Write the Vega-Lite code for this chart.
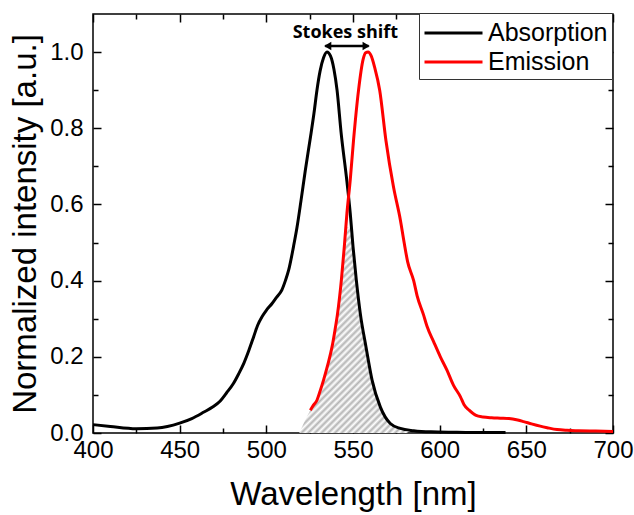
{
  "$schema": "https://vega.github.io/schema/vega-lite/v6.json",
  "width": 520,
  "height": 419,
  "autosize": {"type": "none"},
  "padding": {"left": 93, "top": 14, "right": 21, "bottom": 82},
  "background": "white",
  "config": {
    "view": {"stroke": "#000000", "strokeWidth": 1.5},
    "font": "Liberation Sans",
    "axis": {
      "domain": false,
      "tickColor": "#000000",
      "tickWidth": 1.5,
      "labelColor": "#000000",
      "labelFont": "Liberation Sans",
      "labelFontSize": 24,
      "labelFlush": false,
      "labelOverlap": false,
      "titleFont": "Liberation Sans",
      "titleFontSize": 33,
      "titleFontWeight": "normal",
      "titleColor": "#000000",
      "grid": false
    }
  },
  "datasets": {
    "spectra": [
      {"wavelength": 400, "intensity": 0.022, "series": "Absorption"},
      {"wavelength": 410, "intensity": 0.017, "series": "Absorption"},
      {"wavelength": 425, "intensity": 0.011, "series": "Absorption"},
      {"wavelength": 437, "intensity": 0.013, "series": "Absorption"},
      {"wavelength": 450, "intensity": 0.026, "series": "Absorption"},
      {"wavelength": 457, "intensity": 0.038, "series": "Absorption"},
      {"wavelength": 464, "intensity": 0.055, "series": "Absorption"},
      {"wavelength": 469, "intensity": 0.068, "series": "Absorption"},
      {"wavelength": 473.4, "intensity": 0.084, "series": "Absorption"},
      {"wavelength": 477, "intensity": 0.105, "series": "Absorption"},
      {"wavelength": 481, "intensity": 0.13, "series": "Absorption"},
      {"wavelength": 484, "intensity": 0.155, "series": "Absorption"},
      {"wavelength": 487, "intensity": 0.183, "series": "Absorption"},
      {"wavelength": 490, "intensity": 0.218, "series": "Absorption"},
      {"wavelength": 492.7, "intensity": 0.253, "series": "Absorption"},
      {"wavelength": 495, "intensity": 0.283, "series": "Absorption"},
      {"wavelength": 497.5, "intensity": 0.305, "series": "Absorption"},
      {"wavelength": 500, "intensity": 0.322, "series": "Absorption"},
      {"wavelength": 503.3, "intensity": 0.34, "series": "Absorption"},
      {"wavelength": 506, "intensity": 0.357, "series": "Absorption"},
      {"wavelength": 509, "intensity": 0.376, "series": "Absorption"},
      {"wavelength": 511, "intensity": 0.4, "series": "Absorption"},
      {"wavelength": 512.9, "intensity": 0.428, "series": "Absorption"},
      {"wavelength": 515.7, "intensity": 0.49, "series": "Absorption"},
      {"wavelength": 517.7, "intensity": 0.54, "series": "Absorption"},
      {"wavelength": 520, "intensity": 0.61, "series": "Absorption"},
      {"wavelength": 522.5, "intensity": 0.69, "series": "Absorption"},
      {"wavelength": 525.4, "intensity": 0.775, "series": "Absorption"},
      {"wavelength": 527.5, "intensity": 0.84, "series": "Absorption"},
      {"wavelength": 529.2, "intensity": 0.9, "series": "Absorption"},
      {"wavelength": 531, "intensity": 0.95, "series": "Absorption"},
      {"wavelength": 533, "intensity": 0.985, "series": "Absorption"},
      {"wavelength": 535, "intensity": 1.0, "series": "Absorption"},
      {"wavelength": 537, "intensity": 0.99, "series": "Absorption"},
      {"wavelength": 539, "intensity": 0.955, "series": "Absorption"},
      {"wavelength": 540.8, "intensity": 0.9, "series": "Absorption"},
      {"wavelength": 543.1, "intensity": 0.79, "series": "Absorption"},
      {"wavelength": 546.5, "intensity": 0.66, "series": "Absorption"},
      {"wavelength": 548.4, "intensity": 0.577, "series": "Absorption"},
      {"wavelength": 550, "intensity": 0.49, "series": "Absorption"},
      {"wavelength": 551.9, "intensity": 0.402, "series": "Absorption"},
      {"wavelength": 554.2, "intensity": 0.314, "series": "Absorption"},
      {"wavelength": 557.5, "intensity": 0.226, "series": "Absorption"},
      {"wavelength": 561, "intensity": 0.139, "series": "Absorption"},
      {"wavelength": 565.8, "intensity": 0.068, "series": "Absorption"},
      {"wavelength": 571.5, "intensity": 0.025, "series": "Absorption"},
      {"wavelength": 577.3, "intensity": 0.012, "series": "Absorption"},
      {"wavelength": 585, "intensity": 0.006, "series": "Absorption"},
      {"wavelength": 595, "intensity": 0.003, "series": "Absorption"},
      {"wavelength": 610, "intensity": 0.002, "series": "Absorption"},
      {"wavelength": 625, "intensity": 0.001, "series": "Absorption"},
      {"wavelength": 638, "intensity": 0.001, "series": "Absorption"},
      {"wavelength": 525.4, "intensity": 0.06, "series": "Emission"},
      {"wavelength": 527, "intensity": 0.072, "series": "Emission"},
      {"wavelength": 529.2, "intensity": 0.086, "series": "Emission"},
      {"wavelength": 531, "intensity": 0.11, "series": "Emission"},
      {"wavelength": 533, "intensity": 0.139, "series": "Emission"},
      {"wavelength": 535.5, "intensity": 0.18, "series": "Emission"},
      {"wavelength": 537.9, "intensity": 0.226, "series": "Emission"},
      {"wavelength": 539.6, "intensity": 0.27, "series": "Emission"},
      {"wavelength": 541.1, "intensity": 0.314, "series": "Emission"},
      {"wavelength": 543.3, "intensity": 0.402, "series": "Emission"},
      {"wavelength": 545, "intensity": 0.49, "series": "Emission"},
      {"wavelength": 546.5, "intensity": 0.577, "series": "Emission"},
      {"wavelength": 548.4, "intensity": 0.664, "series": "Emission"},
      {"wavelength": 550.3, "intensity": 0.768, "series": "Emission"},
      {"wavelength": 553.2, "intensity": 0.9, "series": "Emission"},
      {"wavelength": 555.8, "intensity": 0.98, "series": "Emission"},
      {"wavelength": 557.3, "intensity": 0.998, "series": "Emission"},
      {"wavelength": 558.7, "intensity": 1.0, "series": "Emission"},
      {"wavelength": 560.5, "intensity": 0.99, "series": "Emission"},
      {"wavelength": 562.5, "intensity": 0.96, "series": "Emission"},
      {"wavelength": 565.4, "intensity": 0.9, "series": "Emission"},
      {"wavelength": 569, "intensity": 0.768, "series": "Emission"},
      {"wavelength": 573.4, "intensity": 0.645, "series": "Emission"},
      {"wavelength": 577.3, "intensity": 0.56, "series": "Emission"},
      {"wavelength": 579.5, "intensity": 0.5, "series": "Emission"},
      {"wavelength": 581.5, "intensity": 0.45, "series": "Emission"},
      {"wavelength": 585, "intensity": 0.4, "series": "Emission"},
      {"wavelength": 587, "intensity": 0.36, "series": "Emission"},
      {"wavelength": 590.7, "intensity": 0.31, "series": "Emission"},
      {"wavelength": 592.7, "intensity": 0.28, "series": "Emission"},
      {"wavelength": 596.5, "intensity": 0.24, "series": "Emission"},
      {"wavelength": 600.4, "intensity": 0.2, "series": "Emission"},
      {"wavelength": 604.2, "intensity": 0.165, "series": "Emission"},
      {"wavelength": 608, "intensity": 0.125, "series": "Emission"},
      {"wavelength": 612, "intensity": 0.095, "series": "Emission"},
      {"wavelength": 614, "intensity": 0.075, "series": "Emission"},
      {"wavelength": 617, "intensity": 0.06, "series": "Emission"},
      {"wavelength": 621, "intensity": 0.046, "series": "Emission"},
      {"wavelength": 625, "intensity": 0.042, "series": "Emission"},
      {"wavelength": 630, "intensity": 0.04, "series": "Emission"},
      {"wavelength": 635, "intensity": 0.039, "series": "Emission"},
      {"wavelength": 640, "intensity": 0.038, "series": "Emission"},
      {"wavelength": 645, "intensity": 0.034, "series": "Emission"},
      {"wavelength": 648.4, "intensity": 0.03, "series": "Emission"},
      {"wavelength": 653, "intensity": 0.024, "series": "Emission"},
      {"wavelength": 658, "intensity": 0.018, "series": "Emission"},
      {"wavelength": 662, "intensity": 0.014, "series": "Emission"},
      {"wavelength": 667.7, "intensity": 0.009, "series": "Emission"},
      {"wavelength": 673.5, "intensity": 0.007, "series": "Emission"},
      {"wavelength": 680, "intensity": 0.006, "series": "Emission"},
      {"wavelength": 690, "intensity": 0.005, "series": "Emission"},
      {"wavelength": 700, "intensity": 0.004, "series": "Emission"}
    ],
    "overlap": [
      {"wavelength": 519, "intensity": 0},
      {"wavelength": 525.4, "intensity": 0.06},
      {"wavelength": 529.2, "intensity": 0.086},
      {"wavelength": 533, "intensity": 0.139},
      {"wavelength": 537.9, "intensity": 0.226},
      {"wavelength": 541.1, "intensity": 0.314},
      {"wavelength": 543.3, "intensity": 0.402},
      {"wavelength": 545, "intensity": 0.49},
      {"wavelength": 546, "intensity": 0.54},
      {"wavelength": 549.3, "intensity": 0.54},
      {"wavelength": 550, "intensity": 0.49},
      {"wavelength": 551.9, "intensity": 0.402},
      {"wavelength": 554.2, "intensity": 0.314},
      {"wavelength": 557.5, "intensity": 0.226},
      {"wavelength": 561, "intensity": 0.139},
      {"wavelength": 565.8, "intensity": 0.068},
      {"wavelength": 571.5, "intensity": 0.025},
      {"wavelength": 577.3, "intensity": 0.012},
      {"wavelength": 582, "intensity": 0}
    ],
    "arrow": [
      {"start": 534.0, "end": 559.0, "level": 1.016}
    ],
    "heads": [
      {"wavelength": 535.4, "level": 1.016, "dir": "triangle-left"},
      {"wavelength": 557.6, "level": 1.016, "dir": "triangle-right"}
    ],
    "note": [
      {"wavelength": 545.6, "level": 1.038, "label": "Stokes shift"}
    ]
  },
  "layer": [
    {
      "data": {"name": "overlap"},
      "mark": {
        "type": "area",
        "interpolate": "monotone",
        "fill": {
          "gradient": "linear",
          "x1": 0, "y1": 0, "x2": 0.635, "y2": 1.194,
          "stops": [
            {"offset": 0, "color": "#b4b4b4"}, {"offset": 0.0106, "color": "#ffffff"},
            {"offset": 0.0213, "color": "#b4b4b4"}, {"offset": 0.0319, "color": "#ffffff"},
            {"offset": 0.0426, "color": "#b4b4b4"}, {"offset": 0.0532, "color": "#ffffff"},
            {"offset": 0.0638, "color": "#b4b4b4"}, {"offset": 0.0745, "color": "#ffffff"},
            {"offset": 0.0851, "color": "#b4b4b4"}, {"offset": 0.0957, "color": "#ffffff"},
            {"offset": 0.1064, "color": "#b4b4b4"}, {"offset": 0.1170, "color": "#ffffff"},
            {"offset": 0.1277, "color": "#b4b4b4"}, {"offset": 0.1383, "color": "#ffffff"},
            {"offset": 0.1489, "color": "#b4b4b4"}, {"offset": 0.1596, "color": "#ffffff"},
            {"offset": 0.1702, "color": "#b4b4b4"}, {"offset": 0.1809, "color": "#ffffff"},
            {"offset": 0.1915, "color": "#b4b4b4"}, {"offset": 0.2021, "color": "#ffffff"},
            {"offset": 0.2128, "color": "#b4b4b4"}, {"offset": 0.2234, "color": "#ffffff"},
            {"offset": 0.2340, "color": "#b4b4b4"}, {"offset": 0.2447, "color": "#ffffff"},
            {"offset": 0.2553, "color": "#b4b4b4"}, {"offset": 0.2660, "color": "#ffffff"},
            {"offset": 0.2766, "color": "#b4b4b4"}, {"offset": 0.2872, "color": "#ffffff"},
            {"offset": 0.2979, "color": "#b4b4b4"}, {"offset": 0.3085, "color": "#ffffff"},
            {"offset": 0.3191, "color": "#b4b4b4"}, {"offset": 0.3298, "color": "#ffffff"},
            {"offset": 0.3404, "color": "#b4b4b4"}, {"offset": 0.3511, "color": "#ffffff"},
            {"offset": 0.3617, "color": "#b4b4b4"}, {"offset": 0.3723, "color": "#ffffff"},
            {"offset": 0.3830, "color": "#b4b4b4"}, {"offset": 0.3936, "color": "#ffffff"},
            {"offset": 0.4043, "color": "#b4b4b4"}, {"offset": 0.4149, "color": "#ffffff"},
            {"offset": 0.4255, "color": "#b4b4b4"}, {"offset": 0.4362, "color": "#ffffff"},
            {"offset": 0.4468, "color": "#b4b4b4"}, {"offset": 0.4574, "color": "#ffffff"},
            {"offset": 0.4681, "color": "#b4b4b4"}, {"offset": 0.4787, "color": "#ffffff"},
            {"offset": 0.4894, "color": "#b4b4b4"}, {"offset": 0.5000, "color": "#ffffff"},
            {"offset": 0.5106, "color": "#b4b4b4"}, {"offset": 0.5213, "color": "#ffffff"},
            {"offset": 0.5319, "color": "#b4b4b4"}, {"offset": 0.5426, "color": "#ffffff"},
            {"offset": 0.5532, "color": "#b4b4b4"}, {"offset": 0.5638, "color": "#ffffff"},
            {"offset": 0.5745, "color": "#b4b4b4"}, {"offset": 0.5851, "color": "#ffffff"},
            {"offset": 0.5957, "color": "#b4b4b4"}, {"offset": 0.6064, "color": "#ffffff"},
            {"offset": 0.6170, "color": "#b4b4b4"}, {"offset": 0.6277, "color": "#ffffff"},
            {"offset": 0.6383, "color": "#b4b4b4"}, {"offset": 0.6489, "color": "#ffffff"},
            {"offset": 0.6596, "color": "#b4b4b4"}, {"offset": 0.6702, "color": "#ffffff"},
            {"offset": 0.6809, "color": "#b4b4b4"}, {"offset": 0.6915, "color": "#ffffff"},
            {"offset": 0.7021, "color": "#b4b4b4"}, {"offset": 0.7128, "color": "#ffffff"},
            {"offset": 0.7234, "color": "#b4b4b4"}, {"offset": 0.7340, "color": "#ffffff"},
            {"offset": 0.7447, "color": "#b4b4b4"}, {"offset": 0.7553, "color": "#ffffff"},
            {"offset": 0.7660, "color": "#b4b4b4"}, {"offset": 0.7766, "color": "#ffffff"},
            {"offset": 0.7872, "color": "#b4b4b4"}, {"offset": 0.7979, "color": "#ffffff"},
            {"offset": 0.8085, "color": "#b4b4b4"}, {"offset": 0.8191, "color": "#ffffff"},
            {"offset": 0.8298, "color": "#b4b4b4"}, {"offset": 0.8404, "color": "#ffffff"},
            {"offset": 0.8511, "color": "#b4b4b4"}, {"offset": 0.8617, "color": "#ffffff"},
            {"offset": 0.8723, "color": "#b4b4b4"}, {"offset": 0.8830, "color": "#ffffff"},
            {"offset": 0.8936, "color": "#b4b4b4"}, {"offset": 0.9043, "color": "#ffffff"},
            {"offset": 0.9149, "color": "#b4b4b4"}, {"offset": 0.9255, "color": "#ffffff"},
            {"offset": 0.9362, "color": "#b4b4b4"}, {"offset": 0.9468, "color": "#ffffff"},
            {"offset": 0.9574, "color": "#b4b4b4"}, {"offset": 0.9681, "color": "#ffffff"},
            {"offset": 0.9787, "color": "#b4b4b4"}, {"offset": 0.9894, "color": "#ffffff"},
            {"offset": 1, "color": "#b4b4b4"}
          ]
        }
      },
      "encoding": {
        "x": {
          "field": "wavelength", "type": "quantitative",
          "scale": {"domain": [400, 700], "nice": false, "zero": false},
          "axis": {
            "orient": "bottom",
            "values": [400, 450, 500, 550, 600, 650, 700],
            "ticks": false,
            "labelPadding": 5,
            "title": "Wavelength [nm]",
            "titlePadding": 16
          }
        },
        "y": {
          "field": "intensity", "type": "quantitative",
          "scale": {"domain": [0, 1.1], "nice": false, "zero": false},
          "axis": {
            "orient": "left",
            "values": [0, 0.2, 0.4, 0.6, 0.8, 1.0],
            "format": ".1f",
            "ticks": false,
            "labelPadding": 10,
            "title": "Normalized intensity [a.u.]",
            "titlePadding": 7
          }
        }
      }
    },
    {
      "data": {"name": "spectra"},
      "mark": {"type": "line", "strokeWidth": 3, "interpolate": "monotone"},
      "encoding": {
        "x": {
          "field": "wavelength", "type": "quantitative",
          "axis": {"orient": "bottom", "values": [400, 450, 500, 550, 600, 650, 700], "offset": -8, "tickSize": 8, "labels": false, "title": null}
        },
        "y": {
          "field": "intensity", "type": "quantitative",
          "axis": {"orient": "left", "values": [0, 0.2, 0.4, 0.6, 0.8, 1.0], "offset": -8, "tickSize": 8, "labels": false, "title": null}
        },
        "color": {
          "field": "series", "type": "nominal",
          "scale": {"domain": ["Absorption", "Emission"], "range": ["#000000", "#ff0000"]},
          "legend": {
            "orient": "none",
            "legendX": 326,
            "legendY": -1,
            "title": null,
            "symbolType": "M-1,0H3",
            "symbolSize": 841,
            "symbolStrokeWidth": 3,
            "labelFontSize": 25,
            "labelFont": "Liberation Sans",
            "labelColor": "#000000",
            "labelOffset": 33,
            "strokeColor": "#333333",
            "fillColor": "#ffffff",
            "padding": 4,
            "rowPadding": 0
          }
        }
      }
    },
    {
      "data": {"name": "arrow"},
      "mark": {"type": "rule", "strokeWidth": 2.5, "color": "#000000"},
      "encoding": {
        "x": {
          "field": "start", "type": "quantitative",
          "axis": {"orient": "bottom", "values": [425, 475, 525, 575, 625, 675], "offset": -5, "tickSize": 5, "labels": false, "title": null}
        },
        "x2": {"field": "end"},
        "y": {
          "field": "level", "type": "quantitative",
          "axis": {"orient": "left", "values": [0.1, 0.3, 0.5, 0.7, 0.9], "offset": -5, "tickSize": 5, "labels": false, "title": null}
        }
      }
    },
    {
      "data": {"name": "heads"},
      "mark": {"type": "point", "filled": true, "color": "#000000", "size": 70, "opacity": 1},
      "encoding": {
        "x": {
          "field": "wavelength", "type": "quantitative",
          "axis": {"orient": "top", "values": [400, 450, 500, 550, 600, 650, 700], "offset": -8, "tickSize": 8, "labels": false, "title": null}
        },
        "y": {
          "field": "level", "type": "quantitative",
          "axis": {"orient": "right", "values": [0, 0.2, 0.4, 0.6, 0.8, 1.0], "offset": -8, "tickSize": 8, "labels": false, "title": null}
        },
        "shape": {"field": "dir", "type": "nominal", "scale": null}
      }
    },
    {
      "data": {"name": "note"},
      "mark": {"type": "text", "font": "Open Sans", "fontWeight": "bold", "fontSize": 18, "align": "center", "baseline": "alphabetic", "color": "#000000"},
      "encoding": {
        "x": {
          "field": "wavelength", "type": "quantitative",
          "axis": {"orient": "top", "values": [425, 475, 525, 575, 625, 675], "offset": -5, "tickSize": 5, "labels": false, "title": null}
        },
        "y": {
          "field": "level", "type": "quantitative",
          "axis": {"orient": "right", "values": [0.1, 0.3, 0.5, 0.7, 0.9], "offset": -5, "tickSize": 5, "labels": false, "title": null}
        },
        "text": {"field": "label"}
      }
    }
  ],
  "resolve": {"axis": {"x": "independent", "y": "independent"}}
}
